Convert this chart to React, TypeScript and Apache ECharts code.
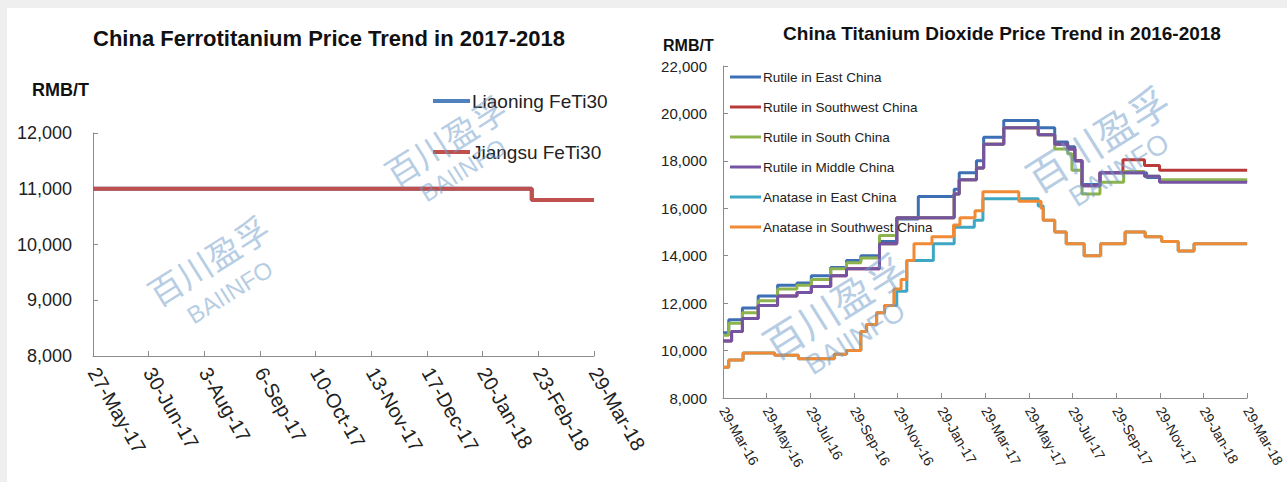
import React, { useEffect, useRef } from "react";
import * as echarts from "echarts";

const FONT = "'Liberation Sans', Arial, sans-serif";
const CJK = "'Noto Sans CJK SC', sans-serif";

// ---------- Left chart: China Ferrotitanium Price Trend in 2017-2018 ----------
const feTiStart = "2017-05-27";
const feTiTickDays = 34;
const feTiTickLabels = ["27-May-17", "30-Jun-17", "3-Aug-17", "6-Sep-17", "10-Oct-17", "13-Nov-17", "17-Dec-17", "20-Jan-18", "23-Feb-18", "29-Mar-18"];
const liaoningDates = ["2017-05-27", "2018-02-19", "2018-03-29"];
const liaoningValues = [11000, 10800, 10800];
const jiangsuDates = ["2017-05-27", "2018-02-19", "2018-03-29"];
const jiangsuValues = [11000, 10800, 10800];

// ---------- Right chart: China Titanium Dioxide Price Trend in 2016-2018 ----------
const tio2Start = "2016-03-29";
const tio2TickDays = 730 / 12;
const tio2TickLabels = ["29-Mar-16", "29-May-16", "29-Jul-16", "29-Sep-16", "29-Nov-16", "29-Jan-17", "29-Mar-17", "29-May-17", "29-Jul-17", "29-Sep-17", "29-Nov-17", "29-Jan-18", "29-Mar-18"];

const rutileEastDates = ["2016-03-29", "2016-04-06", "2016-04-25", "2016-05-17", "2016-06-13", "2016-07-10", "2016-07-30", "2016-08-26", "2016-09-17", "2016-10-07", "2016-11-02", "2016-11-26", "2016-12-26", "2017-02-14", "2017-02-21", "2017-03-17", "2017-03-27", "2017-04-24", "2017-06-11", "2017-07-04", "2017-07-22", "2017-08-01", "2017-08-11", "2017-09-05", "2017-11-09", "2017-11-27", "2018-03-29"];
const rutileEastValues = [10750, 11300, 11800, 12300, 12750, 12850, 13150, 13500, 13800, 14000, 14600, 15550, 16500, 16800, 17500, 18000, 19000, 19700, 19400, 18800, 18600, 18000, 17000, 17500, 17300, 17150, 17150];

const rutileSouthwestDates = ["2016-03-29", "2016-04-10", "2016-04-25", "2016-05-17", "2016-06-13", "2016-07-10", "2016-07-30", "2016-08-26", "2016-09-17", "2016-11-02", "2016-11-26", "2017-02-14", "2017-02-21", "2017-03-17", "2017-03-27", "2017-04-24", "2017-06-11", "2017-07-04", "2017-07-22", "2017-08-01", "2017-08-11", "2017-09-05", "2017-10-07", "2017-11-06", "2017-11-27", "2018-03-29"];
const rutileSouthwestValues = [10400, 10800, 11350, 11900, 12300, 12450, 12700, 13150, 13450, 14500, 15600, 16600, 17200, 17700, 18700, 19400, 19100, 18700, 18500, 18000, 16950, 17500, 18050, 17800, 17600, 17600];

const rutileSouthDates = ["2016-03-29", "2016-04-06", "2016-04-25", "2016-05-17", "2016-06-13", "2016-07-10", "2016-07-30", "2016-08-26", "2016-09-17", "2016-10-07", "2016-11-02", "2016-11-26", "2017-02-14", "2017-02-21", "2017-03-17", "2017-03-27", "2017-04-24", "2017-06-11", "2017-07-04", "2017-07-22", "2017-07-28", "2017-08-11", "2017-09-05", "2017-10-08", "2017-11-06", "2017-11-27", "2018-03-29"];
const rutileSouthValues = [10650, 11150, 11600, 12100, 12600, 12750, 13000, 13450, 13700, 13900, 14850, 15600, 16600, 17200, 17700, 18700, 19400, 19100, 18500, 18300, 17600, 16600, 17100, 17550, 17350, 17200, 17200];

const rutileMiddleDates = ["2016-03-29", "2016-04-10", "2016-04-25", "2016-05-17", "2016-06-13", "2016-07-10", "2016-07-30", "2016-08-26", "2016-09-17", "2016-11-02", "2016-11-26", "2017-02-14", "2017-02-21", "2017-03-17", "2017-03-27", "2017-04-24", "2017-06-11", "2017-07-04", "2017-07-22", "2017-08-01", "2017-08-11", "2017-09-05", "2017-11-06", "2017-11-27", "2018-03-29"];
const rutileMiddleValues = [10400, 10800, 11350, 11900, 12300, 12450, 12700, 13150, 13450, 14500, 15600, 16600, 17200, 17700, 18700, 19400, 19100, 18700, 18500, 18000, 16950, 17500, 17350, 17100, 17100];

const anataseEastDates = ["2016-03-29", "2016-04-06", "2016-04-26", "2016-06-09", "2016-07-12", "2016-08-31", "2016-09-17", "2016-10-07", "2016-10-15", "2016-10-29", "2016-11-09", "2016-11-26", "2016-12-10", "2017-01-16", "2017-02-14", "2017-03-14", "2017-03-26", "2017-06-11", "2017-06-18", "2017-07-04", "2017-07-20", "2017-08-14", "2017-09-06", "2017-10-10", "2017-11-07", "2017-11-30", "2017-12-23", "2018-01-14", "2018-03-29"];
const anataseEastValues = [9300, 9600, 9900, 9800, 9650, 9850, 10000, 10800, 11100, 11600, 11900, 12500, 13800, 14500, 15200, 15500, 16400, 16100, 15500, 15000, 14500, 14000, 14500, 15000, 14800, 14600, 14200, 14500, 14500];

const anataseSouthwestDates = ["2016-03-29", "2016-04-06", "2016-04-26", "2016-06-09", "2016-07-12", "2016-08-31", "2016-09-17", "2016-10-07", "2016-10-15", "2016-10-29", "2016-11-09", "2016-11-22", "2016-12-02", "2016-12-10", "2016-12-20", "2017-01-14", "2017-02-13", "2017-02-22", "2017-03-15", "2017-03-26", "2017-05-15", "2017-06-15", "2017-06-18", "2017-07-04", "2017-07-20", "2017-08-14", "2017-09-06", "2017-10-10", "2017-11-07", "2017-11-30", "2017-12-23", "2018-01-14", "2018-03-29"];
const anataseSouthwestValues = [9300, 9600, 9900, 9800, 9650, 9850, 10000, 10800, 11100, 11600, 11900, 12600, 13000, 13800, 14500, 14800, 15300, 15600, 15900, 16700, 16300, 16000, 15500, 15000, 14500, 14000, 14500, 15000, 14800, 14600, 14200, 14500, 14500];

function dayNum(s: string): number {
  const [y, m, d] = s.split("-").map(Number);
  return Date.UTC(y, m - 1, d) / 86400000;
}
function toPoints(dates: string[], values: number[], start: string, tickDays: number) {
  const s = dayNum(start);
  return dates.map((d, i) => [(dayNum(d) - s) / tickDays, values[i]]);
}
const fmtThousands = (v: number) => v.toLocaleString("en-US");

export default function App() {
  const ref = useRef<HTMLDivElement>(null);
  useEffect(() => {
    if (!ref.current) return;
    const chart = echarts.init(ref.current, null, { renderer: "svg" });
    const axisLineColor = "#8c8c8c";
    const labelColor = "#222";

    const leftSeries = [
      { name: "Liaoning FeTi30", color: "#4f81bd", data: toPoints(liaoningDates, liaoningValues, feTiStart, feTiTickDays) },
      { name: "Jiangsu FeTi30", color: "#c0504d", data: toPoints(jiangsuDates, jiangsuValues, feTiStart, feTiTickDays) },
    ];
    const rightSeries = [
      { name: "Rutile in East China", color: "#3d6fb5", data: toPoints(rutileEastDates, rutileEastValues, tio2Start, tio2TickDays) },
      { name: "Rutile in Southwest China", color: "#b93a38", data: toPoints(rutileSouthwestDates, rutileSouthwestValues, tio2Start, tio2TickDays) },
      { name: "Rutile in South China", color: "#8db34c", data: toPoints(rutileSouthDates, rutileSouthValues, tio2Start, tio2TickDays) },
      { name: "Rutile in Middle China", color: "#7453a3", data: toPoints(rutileMiddleDates, rutileMiddleValues, tio2Start, tio2TickDays) },
      { name: "Anatase in East China", color: "#3ea8c4", data: toPoints(anataseEastDates, anataseEastValues, tio2Start, tio2TickDays) },
      { name: "Anatase in Southwest China", color: "#f08a34", data: toPoints(anataseSouthwestDates, anataseSouthwestValues, tio2Start, tio2TickDays) },
    ];

    const wmColor = "rgba(110,155,200,0.5)";
    const wm = (text: string, x: number, y: number, size: number, family: string) => ({
      type: "text",
      x,
      y,
      rotation: 0.56,
      z: 100,
      style: { text, fill: wmColor, fontSize: size, fontFamily: family, align: "center", verticalAlign: "middle" },
    });

    const option: any = {
      animation: false,
      backgroundColor: "#efefef",
      grid: [
        { left: 93, top: 133, width: 501, height: 223 },
        { left: 723, top: 66, width: 533, height: 332 },
      ],
      xAxis: [
        {
          gridIndex: 0, type: "value", min: 0, max: feTiTickLabels.length - 1, interval: 1,
          axisLine: { lineStyle: { color: axisLineColor } },
          axisTick: { inside: true, length: 5, lineStyle: { color: axisLineColor } },
          splitLine: { show: false },
          axisLabel: { rotate: -60, margin: 13, fontSize: 20, fontFamily: FONT, color: labelColor, formatter: (v: number) => feTiTickLabels[Math.round(v)] },
        },
        {
          gridIndex: 1, type: "value", min: 0, max: tio2TickLabels.length - 1, interval: 1,
          axisLine: { lineStyle: { color: axisLineColor } },
          axisTick: { inside: true, length: 5, lineStyle: { color: axisLineColor } },
          splitLine: { show: false },
          axisLabel: { rotate: -60, margin: 10, fontSize: 14, fontFamily: FONT, color: labelColor, formatter: (v: number) => tio2TickLabels[Math.round(v)] },
        },
      ],
      yAxis: [
        {
          gridIndex: 0, type: "value", min: 8000, max: 12000, interval: 1000,
          axisLine: { show: true, lineStyle: { color: axisLineColor } },
          axisTick: { show: true, inside: true, length: 5, lineStyle: { color: axisLineColor } },
          splitLine: { show: false },
          axisLabel: { margin: 21, fontSize: 18, fontFamily: FONT, color: labelColor, formatter: fmtThousands },
        },
        {
          gridIndex: 1, type: "value", min: 8000, max: 22000, interval: 2000,
          axisLine: { show: true, lineStyle: { color: axisLineColor } },
          axisTick: { show: true, inside: true, length: 5, lineStyle: { color: axisLineColor } },
          splitLine: { show: false },
          axisLabel: { margin: 16, fontSize: 15, fontFamily: FONT, color: labelColor, formatter: fmtThousands },
        },
      ],
      legend: [
        {
          data: leftSeries.map((s) => s.name), orient: "vertical", left: 433, top: 91, padding: 0,
          icon: "rect", itemWidth: 37, itemHeight: 4, itemGap: 31,
          textStyle: { fontSize: 19, lineHeight: 20, fontFamily: FONT, color: labelColor, padding: [0, 0, 0, -3] },
        },
        {
          data: rightSeries.map((s) => s.name), orient: "vertical", left: 730, top: 70, padding: 0,
          icon: "rect", itemWidth: 31, itemHeight: 3, itemGap: 16,
          textStyle: { fontSize: 13.5, lineHeight: 14, fontFamily: FONT, color: labelColor, padding: [0, 0, 0, -3] },
        },
      ],
      series: [
        ...leftSeries.map((s) => ({
          name: s.name, type: "line", step: "end", xAxisIndex: 0, yAxisIndex: 0, symbol: "none",
          data: s.data, color: s.color, lineStyle: { width: 4, color: s.color },
        })),
        ...rightSeries.map((s) => ({
          name: s.name, type: "line", step: "end", xAxisIndex: 1, yAxisIndex: 1, symbol: "none",
          data: s.data, color: s.color, lineStyle: { width: 3, color: s.color },
        })),
      ],
      graphic: [
        { type: "rect", z: -10, shape: { x: 7, y: 8, width: 1280, height: 474 }, style: { fill: "#ffffff" } },
        { type: "text", x: 329, y: 38, style: { text: "China Ferrotitanium Price Trend in 2017-2018", fontSize: 22, fontWeight: "bold", fontFamily: FONT, fill: "#111", align: "center", verticalAlign: "middle" } },
        { type: "text", x: 32, y: 90, style: { text: "RMB/T", fontSize: 18, fontWeight: "bold", fontFamily: FONT, fill: "#111", align: "left", verticalAlign: "middle" } },
        { type: "text", x: 1002, y: 33, style: { text: "China Titanium Dioxide Price Trend in 2016-2018", fontSize: 19, fontWeight: "bold", fontFamily: FONT, fill: "#111", align: "center", verticalAlign: "middle" } },
        { type: "text", x: 663, y: 45, style: { text: "RMB/T", fontSize: 16, fontWeight: "bold", fontFamily: FONT, fill: "#111", align: "left", verticalAlign: "middle" } },
        wm("百川盈孚", 208, 260, 34, CJK),
        wm("BAIINFO", 230, 292, 24, FONT),
        wm("百川盈孚", 445, 140, 34, CJK),
        wm("BAIINFO", 463, 170, 24, FONT),
        wm("百川盈孚", 834, 305, 40, CJK),
        wm("BAIINFO", 855, 338, 28, FONT),
        wm("百川盈孚", 1097, 138, 40, CJK),
        wm("BAIINFO", 1119, 170, 28, FONT),
      ],
    };
    chart.setOption(option);
    return () => chart.dispose();
  }, []);
  return <div ref={ref} style={{ position: "fixed", left: 0, top: 0, width: 1287, height: 482 }} />;
}
